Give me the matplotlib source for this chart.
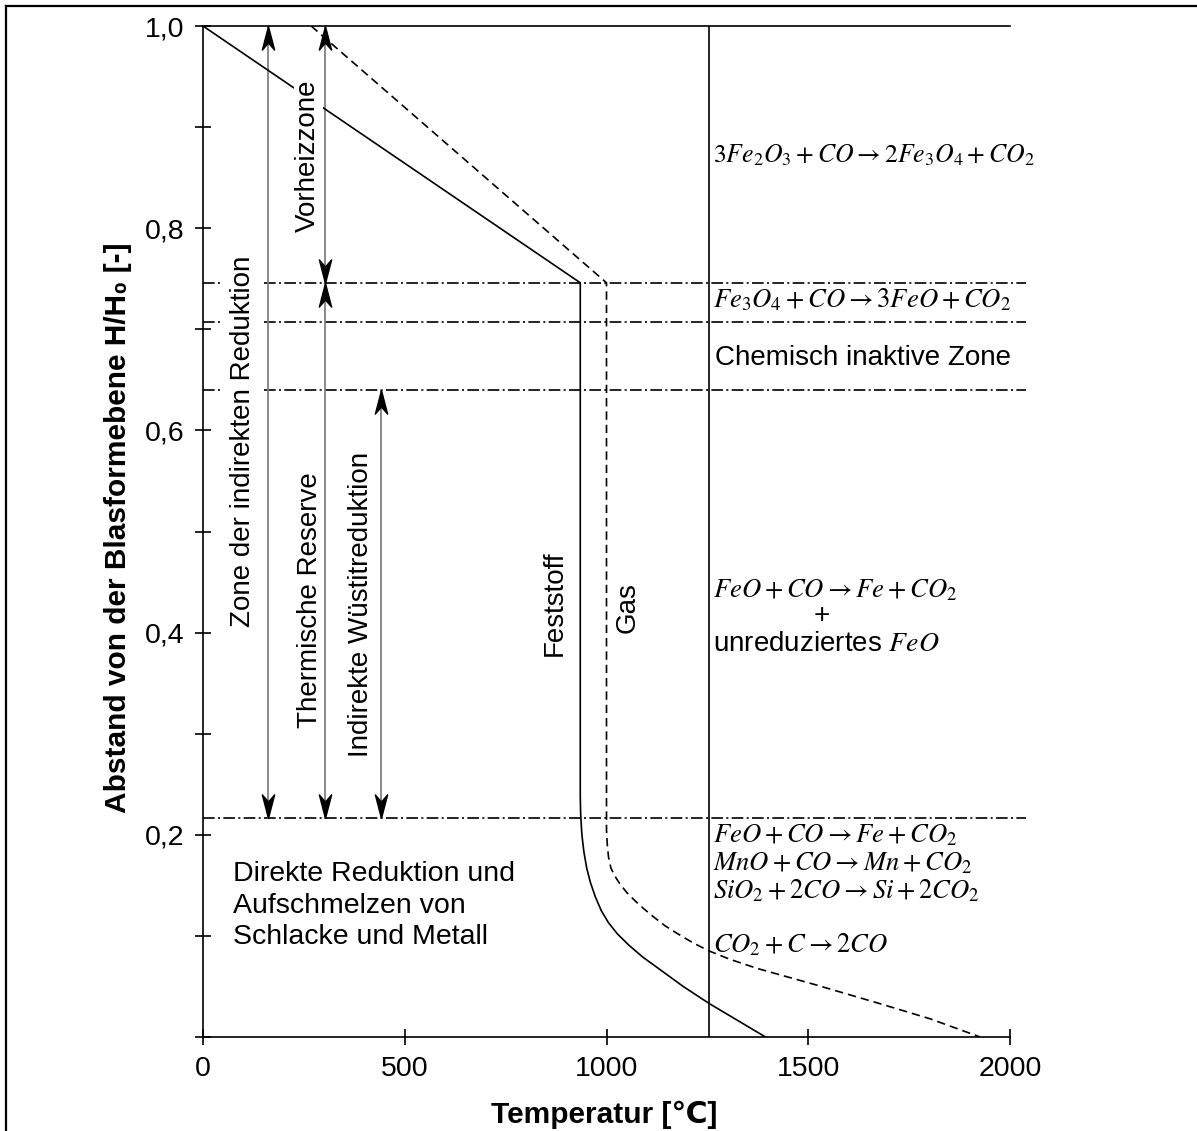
import matplotlib
matplotlib.use("Agg")
import matplotlib.pyplot as plt
from matplotlib.lines import Line2D

plt.rcParams.update({"font.family": ["Liberation Sans", "DejaVu Sans"],
                     "mathtext.fontset": "stix", "font.size": 20})
INK = "black"; GREY = "0.5"

# ---- data (temperature in degC, height H/H0) ----
solid_T = [0, 935, 935, 936, 939, 944, 951, 960, 972, 987, 1005, 1027, 1055, 1090, 1135,
           1190, 1255, 1394]
solid_H = [1.0, 0.746, 0.238, 0.220, 0.200, 0.183, 0.167, 0.153, 0.139, 0.125, 0.113, 0.102,
           0.091, 0.079, 0.066, 0.050, 0.033, 0.0]
gas_T = [268, 1000, 1000, 1002, 1005, 1011, 1021, 1034, 1050, 1070, 1092, 1116, 1145, 1177,
         1215, 1255, 1305, 1372, 1515, 1669, 1802, 1926]
gas_H = [1.0, 0.746, 0.205, 0.190, 0.178, 0.167, 0.159, 0.151, 0.143, 0.135, 0.127, 0.119,
         0.110, 0.102, 0.093, 0.085, 0.077, 0.068, 0.052, 0.034, 0.018, 0.0]
zone_H = [0.746, 0.707, 0.640, 0.217]   # dash-dot zone boundaries
T_wall = 1255                           # vertical line
# (x, y_from, y_to) double arrows
arrows = [(161, 1.0, 0.217), (302, 1.0, 0.746), (302, 0.746, 0.217), (442, 0.640, 0.217)]

yticks = [0.0, 0.1, 0.2, 0.3, 0.4, 0.5, 0.6, 0.7, 0.8, 0.9, 1.0]
ylabels = ["", "", "0,2", "", "0,4", "", "0,6", "", "0,8", "", "1,0"]
xticks = [0, 500, 1000, 1500, 2000]

fig = plt.figure(figsize=(11.97, 11.31), dpi=100)
ax = fig.add_axes([203 / 1197, 1 - 1037 / 1131, 807 / 1197, 1011 / 1131])
ax.set_xlim(0, 2000); ax.set_ylim(0, 1.0)
ax.spines["right"].set_visible(False)
for s in ["left", "bottom", "top"]:
    ax.spines[s].set_linewidth(1.2)
ax.set_xticks(xticks); ax.set_xticklabels([str(t) for t in xticks])
ax.set_yticks(yticks); ax.set_yticklabels(ylabels)
ax.tick_params(direction="inout", length=11, width=1.2, pad=8, labelsize=20.5)

# curves
ax.plot(solid_T, solid_H, color=INK, lw=1.2, zorder=3)
ax.plot(gas_T, gas_H, color=INK, lw=1.2, dashes=(5, 3), zorder=3)
ax.plot([T_wall, T_wall], [0, 1.0], color=INK, lw=1.2)
for h in zone_H:
    ax.plot([0, 2040], [h, h], color=INK, lw=1.2, dashes=(7, 2, 1.2, 2), clip_on=False)

# arrows: grey shaft, black concave heads
up_head = [(0, 0), (0.26, -1), (0, -0.7), (-0.26, -1), (0, 0)]
down_head = [(x, -y) for x, y in up_head]
for x, y0, y1 in arrows:
    ax.plot([x, x], [y0, y1], color=GREY, lw=1.3, zorder=2)
    top, bot = max(y0, y1), min(y0, y1)
    ax.plot([x], [top], marker=up_head, ms=34, color=INK, ls="none", zorder=4)
    ax.plot([x], [bot], marker=down_head, ms=34, color=INK, ls="none", zorder=4)

# rotated labels (white boxes interrupt the lines behind them)
ax.text(261, 0.872, "Vorheizzone", rotation=90, ha="center", va="center",
        bbox=dict(fc="white", ec="none", pad=1), zorder=5)
ax.text(99, 0.589, "Zone der indirekten Reduktion", rotation=90, ha="center", va="center",
        bbox=dict(fc="white", ec="none", pad=6), zorder=5)
ax.text(265, 0.432, "Thermische Reserve", rotation=90, ha="center", va="center")
ax.text(392, 0.428, "Indirekte Wüstitreduktion", rotation=90, ha="center", va="center")
ax.text(872, 0.429, "Feststoff", rotation=90, ha="center", va="center")
ax.text(1053, 0.425, "Gas", rotation=90, ha="center", va="center")

# reactions
EQ = 19.2
ax.text(1264, 0.872, r"$3Fe_2O_3+CO\rightarrow 2Fe_3O_4+CO_2$", va="center", fontsize=18.5)
ax.text(1264, 0.729, r"$Fe_3O_4+CO\rightarrow 3FeO+CO_2$", va="center", fontsize=EQ)
ax.text(1268, 0.672, "Chemisch inaktive Zone", va="center")
ax.text(1264, 0.442, r"$FeO+CO\rightarrow Fe+CO_2$", va="center", fontsize=EQ)
ax.text(1534, 0.416, "+", ha="center", va="center")
ax.text(1265, 0.389, r"unreduziertes $FeO$", va="center")
ax.text(1264, 0.199, r"$FeO+CO\rightarrow Fe+CO_2$", va="center", fontsize=EQ)
ax.text(1264, 0.172, r"$MnO+CO\rightarrow Mn+CO_2$", va="center", fontsize=EQ)
ax.text(1264, 0.144, r"$SiO_2+2CO\rightarrow Si+2CO_2$", va="center", fontsize=EQ)
ax.text(1264, 0.091, r"$CO_2+C\rightarrow 2CO$", va="center", fontsize=EQ)
ax.text(74, 0.130, "Direkte Reduktion und\nAufschmelzen von\nSchlacke und Metall",
        va="center", linespacing=1.28, fontsize=20.5)

ax.set_xlabel("Temperatur [℃]", fontweight="bold", fontsize=21.5)
ax.set_ylabel("Abstand von der Blasformebene H/H₀ [-]", fontweight="bold", fontsize=21.5)
ax.xaxis.set_label_coords(0.497, -0.063)
ax.yaxis.set_label_coords(-0.088, 0.504)

# outer frame (left and top edge only)
fig.add_artist(Line2D([6 / 1197, 6 / 1197], [0, 1 - 6 / 1131], transform=fig.transFigure,
                      color=INK, lw=1.6))
fig.add_artist(Line2D([6 / 1197, 1], [1 - 6 / 1131, 1 - 6 / 1131], transform=fig.transFigure,
                      color=INK, lw=1.6))

fig.savefig("out.png", dpi=100)
